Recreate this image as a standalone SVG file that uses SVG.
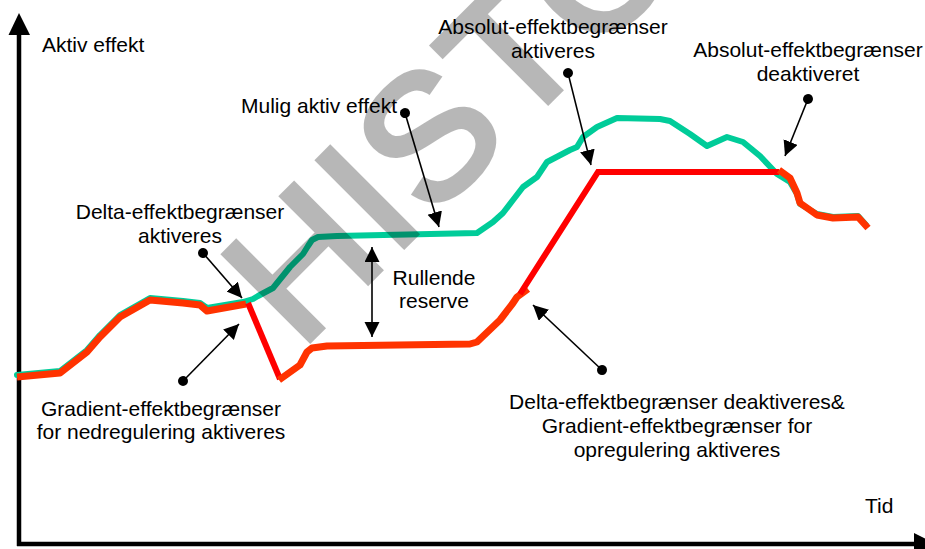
<svg xmlns="http://www.w3.org/2000/svg" width="925" height="549" viewBox="0 0 925 549">
<defs>
<style>
.lbl{font-family:"Liberation Sans",Arial,sans-serif;font-size:21px;fill:#000}
.mid{text-anchor:middle}
.call{stroke:#000;stroke-width:1.6;fill:none;marker-start:url(#dot);marker-end:url(#head)}
.axis{stroke:#000;stroke-width:4.5;fill:none}
.green{stroke:#00cc99;stroke-width:6;fill:none;stroke-linejoin:round;stroke-linecap:round}
.orange{stroke:#ff3300;stroke-width:7;fill:none;stroke-linejoin:round}
.red{stroke:#ff0000;stroke-width:6;fill:none;stroke-linejoin:miter}
.wm{font-family:"Liberation Sans",Arial,sans-serif;font-size:176px;letter-spacing:4px;fill:#000;stroke:#000;stroke-width:6;stroke-linejoin:miter}
</style>
<marker id="head" markerUnits="userSpaceOnUse" markerWidth="16" markerHeight="16" viewBox="0 0 16 16" refX="15" refY="7.5" orient="auto">
<path d="M0,0 L15,7.5 L0,15 z" fill="#000"/>
</marker>
<marker id="head2" markerUnits="userSpaceOnUse" markerWidth="16" markerHeight="16" viewBox="0 0 16 16" refX="15" refY="7.5" orient="auto-start-reverse">
<path d="M0,0 L15,7.5 L0,15 z" fill="#000"/>
</marker>
<marker id="dot" markerUnits="userSpaceOnUse" markerWidth="12" markerHeight="12" viewBox="0 0 12 12" refX="6" refY="6" orient="auto">
<circle cx="6" cy="6" r="5" fill="#000"/>
</marker>
</defs>
<rect width="925" height="549" fill="#fff"/>

<g id="axes">
<path class="axis" d="M19,546 L19,32"/>
<path d="M8.5,35 L19,13 L30,35 z" fill="#000"/>
<path class="axis" d="M17,544 L917,544"/>
<path d="M914,533 L936,544 L914,555 z" fill="#000"/>
</g>

<g id="curve-mulig">
<path class="green" d="M17,375 L60,371 L87,350 L100,335 L120,315 L150,298 L183,301 L200,303 L207,308 L243,302 L253,299 L258,296 L273,288 L290,267 L303,254 L308,246 L312,240 L318,237 L337,236 L477,233 L493,222 L503,213 L513,200 L523,187 L537,177 L547,162 L570,150 L577,147 L583,137 L597,127 L617,118 L660,119 L670,121 L690,134 L707,146 L727,137 L743,142 L760,156 L777,174 L790,182 L797,194 L800,204 L817,214 L833,217 L858,216 L866,225"/>
</g>

<g id="curve-actual">
<path class="orange" d="M17,377 L60,373 L87,352 L100,337 L120,317 L150,300 L183,303 L200,305 L207,311 L246,304"/>
<path class="red" d="M248,303 L280,379"/>
<path class="orange" d="M279,380 L300,365 L307,352 L312,348 L327,346 L470,344 L477,342 L500,320 L513,303 L517,297 L528,289"/>
<path class="red" d="M520,294 L598,172 L779,172"/>
<path class="orange" d="M779,170 L790,178 L797,193 L800,203 L817,215 L833,218 L858,217 L868,228"/>
</g>

<g id="watermark" opacity="0.28">
<text class="wm" transform="translate(300,350) rotate(-45)">HISTORIC</text>
</g>

<g id="connectors">
<line class="call" x1="405" y1="113" x2="439" y2="227"/>
<line class="call" x1="568" y1="73" x2="591" y2="165"/>
<line class="call" x1="808" y1="99" x2="785" y2="156"/>
<line class="call" x1="203" y1="253" x2="242" y2="298"/>
<line class="call" x1="183" y1="381" x2="239" y2="324"/>
<line class="call" x1="602" y1="370" x2="533" y2="305"/>
<line x1="372" y1="247" x2="372" y2="337" stroke="#000" stroke-width="1.6" marker-start="url(#head2)" marker-end="url(#head2)"/>
</g>

<g id="label-aktiv"><text class="lbl" x="42" y="52">Aktiv effekt</text></g>
<g id="label-mulig"><text class="lbl" x="241" y="113">Mulig aktiv effekt</text></g>
<g id="label-abs-akt"><text class="lbl mid" x="553" y="34">Absolut-effektbegrænser</text><text class="lbl mid" x="553" y="58">aktiveres</text></g>
<g id="label-abs-deakt"><text class="lbl mid" x="808" y="57">Absolut-effektbegrænser</text><text class="lbl mid" x="808" y="81">deaktiveret</text></g>
<g id="label-delta-akt"><text class="lbl mid" x="180" y="219">Delta-effektbegrænser</text><text class="lbl mid" x="180" y="243">aktiveres</text></g>
<g id="label-gradient-ned"><text class="lbl mid" x="161" y="416">Gradient-effektbegrænser</text><text class="lbl mid" x="161" y="439">for nedregulering aktiveres</text></g>
<g id="label-rullende"><text class="lbl mid" x="434" y="285">Rullende</text><text class="lbl mid" x="434" y="308">reserve</text></g>
<g id="label-delta-deakt"><text class="lbl mid" x="677" y="409">Delta-effektbegrænser deaktiveres&amp;</text><text class="lbl mid" x="677" y="433">Gradient-effektbegrænser for</text><text class="lbl mid" x="677" y="457">opregulering aktiveres</text></g>
<g id="label-tid"><text class="lbl" x="865" y="513">Tid</text></g>
</svg>
